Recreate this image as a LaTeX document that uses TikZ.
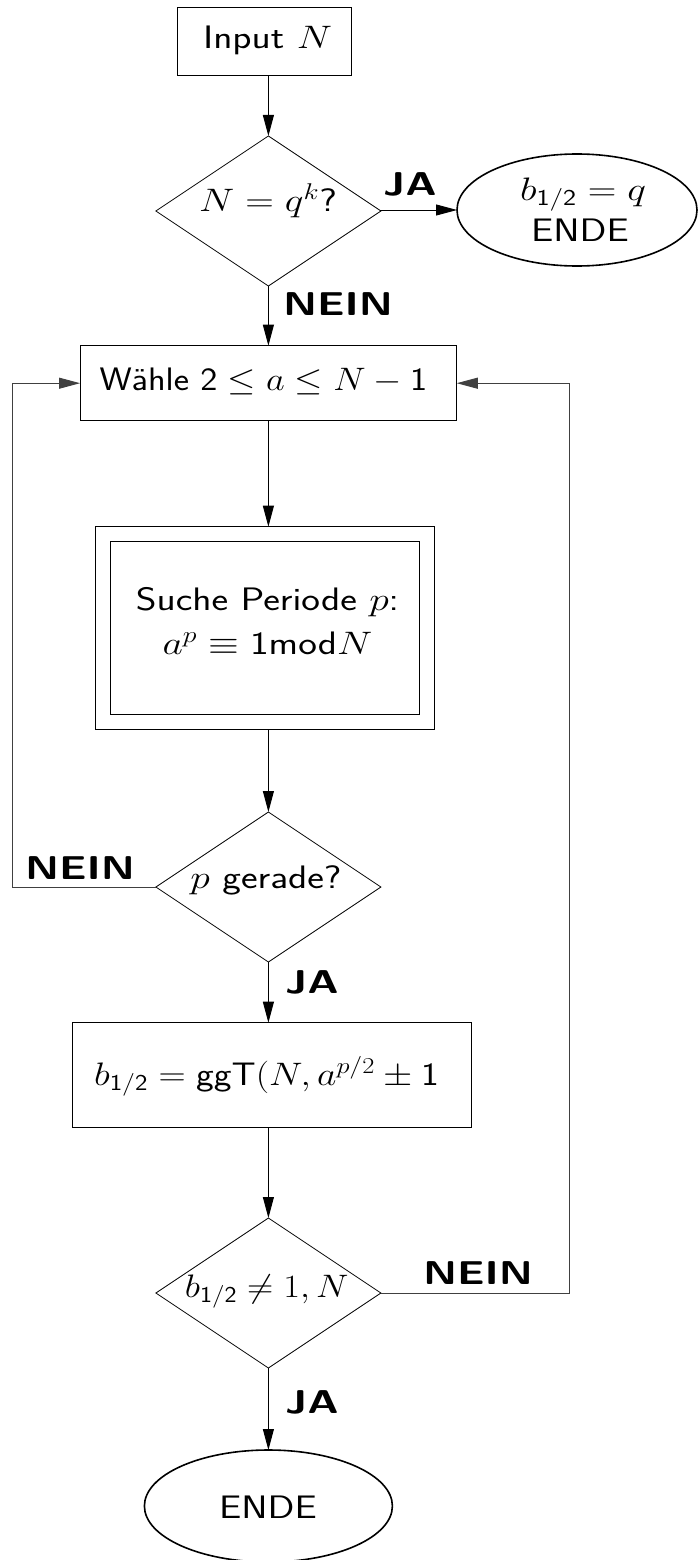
\RequirePackage{fix-cm}
\documentclass[tikz,border=0pt]{standalone}
\usepackage{amsmath}
\usepackage{graphicx}
\usetikzlibrary{shapes.geometric,arrows.meta}
\newcommand{\stretchtxt}[1]{\scalebox{1.22}[1]{#1}}
\newcommand{\stretchlbl}[1]{\scalebox{1.3}[1]{#1}}
\begin{document}
\begin{tikzpicture}[x=1pt,y=-1pt,
  box/.style={draw, line width=0.9pt, rectangle, inner sep=0pt, outer sep=0pt},
  dia/.style={draw, diamond, line width=0.8pt, minimum width=225pt, minimum height=150pt, inner sep=0pt, outer sep=0pt},
  endnode/.style={draw, ellipse, line width=1.6pt, inner sep=0pt, outer sep=0pt},
  txt/.style={anchor=base, inner sep=0pt, font=\fontsize{32.5}{38}\selectfont\sffamily},
  lbl/.style={anchor=base, inner sep=0pt, font=\fontsize{33}{39}\selectfont\sffamily\bfseries},
  arr/.style={line width=0.9pt, -{Triangle[length=21pt,width=11pt]}},
  back/.style={line width=0.9pt, draw=black!75, -{Triangle[length=21pt,width=11pt]}}]
\useasboundingbox (0,0) rectangle (699,1560);

% shapes
\node[box, minimum width=173.6pt, minimum height=68.4pt] (in) at (264.5,41.5) {};
\node[dia] (d1) at (268.4,211) {};
\node[endnode, minimum width=240pt, minimum height=112pt] (e1) at (577,210) {};
\node[box, minimum width=376.7pt, minimum height=75pt] (w) at (268.4,383.2) {};
\node[box, minimum width=338.3pt, minimum height=202.6pt] (so) at (264.9,628) {};
\node[box, minimum width=308.3pt, minimum height=172.3pt] (si) at (264.9,627.9) {};
\node[dia] (d2) at (268.4,887) {};
\node[box, minimum width=399pt, minimum height=104.6pt] (g) at (272.2,1075) {};
\node[dia] (d3) at (268.4,1293) {};
\node[endnode, minimum width=248pt, minimum height=112pt] (e2) at (268.4,1506) {};

% texts
\node[txt] (tin) at (267.5,49) {\stretchtxt{Input $N$}};
\node[txt] (td1) at (268,211.5) {\stretchtxt{$N = q^k$?}};
\node[txt] (te1a) at (583,200) {\stretchtxt{$b_{\mathsf{1/2}} = q$}};
\node[txt] (te1b) at (580,241.7) {\stretchtxt{ENDE}};
\node[txt] (tw) at (263.5,390) {\scalebox{1.12}[1]{Wähle $\mathsf{2} \le a \le N - \mathsf{1}$}};
\node[txt] (ts1) at (267.5,610.7) {\stretchtxt{Suche Periode $p$:}};
\node[txt] (ts2) at (267.5,654) {\stretchtxt{$a^p \equiv \mathsf{1mod}N$}};
\node[txt] (td2) at (266,888) {\stretchtxt{$p$ gerade?}};
\node[txt] (tg) at (266.5,1085) {\scalebox{1.16}[1]{$b_{\mathsf{1/2}} = \mathsf{ggT}(N, a^{p/2} \pm \mathsf{1}$}};
\node[txt] (td3) at (266.7,1297) {\scalebox{1.12}[1]{$b_{\mathsf{1/2}} \neq 1, N$}};
\node[txt] (te2) at (268,1518) {\stretchtxt{ENDE}};

% labels
\node[lbl] (ja1) at (410,195) {\stretchlbl{JA}};
\node[lbl] (nein1) at (338,315) {\stretchlbl{NEIN}};
\node[lbl] (nein2) at (80,879.3) {\stretchlbl{NEIN}};
\node[lbl] (ja2) at (312,993) {\stretchlbl{JA}};
\node[lbl] (nein3) at (478,1284.3) {\stretchlbl{NEIN}};
\node[lbl] (ja3) at (312,1413) {\stretchlbl{JA}};

% connectors
\coordinate (L) at (12.7,887);
\coordinate (R) at (569.3,1293);
\draw[arr] (in.south -| d1.north) -- (d1.north);
\draw[arr] (d1.east) -- (e1.west -| d1.east) -- (e1.west);
\draw[arr] (d1.south) -- (d1.south |- w.north);
\draw[arr] (w.south -| d1.south) -- (d1.south |- so.north);
\draw[arr] (so.south -| d2.north) -- (d2.north);
\draw[arr] (d2.south) -- (d2.south |- g.north);
\draw[arr] (g.south -| d3.north) -- (d3.north);
\draw[arr] (d3.south) -- (e2.north);
\draw[back] (d2.west) -- (L) |- (w.west);
\draw[back] (d3.east) -- (R) |- (w.east);
\end{tikzpicture}
\end{document}
